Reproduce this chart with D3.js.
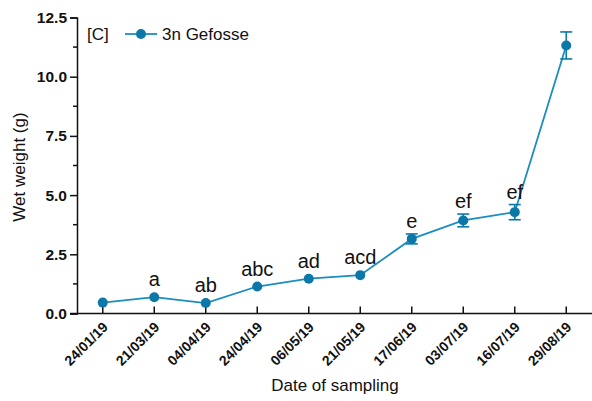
<!DOCTYPE html>
<html><head><meta charset="utf-8">
<script src="https://cdn.jsdelivr.net/npm/d3@7"></script>
<style>body{margin:0;background:#fff;} svg{display:block;font-family:"Liberation Sans",Arial,sans-serif;}</style>
</head><body>
<svg id="c" width="592" height="401"></svg>
<script>
const dates = ["24/01/19","21/03/19","04/04/19","24/04/19","06/05/19","21/05/19","17/06/19","03/07/19","16/07/19","29/08/19"];
const means = [0.46, 0.69, 0.44, 1.14, 1.47, 1.62, 3.15, 3.93, 4.28, 11.32];
const errs  = [0.05, 0.06, 0.05, 0.06, 0.06, 0.06, 0.21, 0.27, 0.32, 0.57];
const letters = ["", "a", "ab", "abc", "ad", "acd", "e", "ef", "ef", ""];
const yTicks = [0, 2.5, 5.0, 7.5, 10.0, 12.5];
const seriesName = "3n Gefosse";
const panelLabel = "[C]";

const FONT = "'Liberation Sans', Arial, sans-serif";
const lineCol = "#1b8dc0", markCol = "#0b78a8";
const svg = d3.select("#c");
const x = d3.scaleBand().domain(dates).range([77, 592]);
const y = d3.scaleLinear().domain([0, 12.5]).range([313.5, 17.5]);
const cx = d => x(d) + x.bandwidth()/2;

// Y axis
const yAx = svg.append("g").attr("transform","translate(77,0)")
  .call(d3.axisLeft(y).tickValues(yTicks).tickFormat(d3.format(".1f")).tickSize(7).tickPadding(3));
yAx.attr("font-family", FONT);
yAx.select(".domain").attr("stroke","#111").attr("stroke-width",1.5);
yAx.selectAll(".tick line").attr("stroke","#111").attr("stroke-width",1.5);
yAx.selectAll(".tick text").attr("font-size",15.5).attr("font-weight","bold").attr("fill","#111");
// minor ticks
const minor = d3.range(1.25, 12.5, 2.5);
svg.append("g").selectAll("line").data(minor).join("line")
  .attr("x1",73).attr("x2",77).attr("y1",d=>y(d)).attr("y2",d=>y(d))
  .attr("stroke","#111").attr("stroke-width",1.5);

// X axis (ticks pointing inward)
const xAx = svg.append("g").attr("transform","translate(0,313.5)")
  .call(d3.axisTop(x).tickSizeOuter(0).tickSize(7).tickFormat(""));
xAx.select(".domain").attr("stroke","#111").attr("stroke-width",1.5).attr("d","M70,0H592");
xAx.selectAll(".tick line").attr("stroke","#111").attr("stroke-width",1.5);
svg.append("g").selectAll("text").data(dates).join("text")
  .attr("transform", d => `translate(${cx(d)-1},${321}) rotate(-45)`)
  .attr("text-anchor","end").attr("dy","0.71em")
  .attr("font-size",14).attr("font-weight","bold").attr("fill","#111").text(d=>d);

// Axis titles
svg.append("text").attr("transform","translate(25,167) rotate(-90)")
  .attr("text-anchor","middle").attr("font-size",17).attr("fill","#111").text("Wet weight (g)");
svg.append("text").attr("x",335).attr("y",391)
  .attr("text-anchor","middle").attr("font-size",17).attr("fill","#111").text("Date of sampling");

// Line
const data = dates.map((d,i)=>({d, m:means[i], e:errs[i], l:letters[i]}));
svg.append("path").datum(data)
  .attr("d", d3.line().x(p=>cx(p.d)).y(p=>y(p.m)))
  .attr("fill","none").attr("stroke",lineCol).attr("stroke-width",1.8);
// Error bars
const eb = svg.append("g").attr("stroke",markCol).attr("stroke-width",1.6);
data.filter(p=>p.e>0.1).forEach(p=>{
  eb.append("line").attr("x1",cx(p.d)).attr("x2",cx(p.d)).attr("y1",y(p.m-p.e)).attr("y2",y(p.m+p.e));
  eb.append("line").attr("x1",cx(p.d)-6).attr("x2",cx(p.d)+6).attr("y1",y(p.m-p.e)).attr("y2",y(p.m-p.e));
  eb.append("line").attr("x1",cx(p.d)-6).attr("x2",cx(p.d)+6).attr("y1",y(p.m+p.e)).attr("y2",y(p.m+p.e));
});
// Markers
svg.append("g").selectAll("circle").data(data).join("circle")
  .attr("cx",p=>cx(p.d)).attr("cy",p=>y(p.m)).attr("r",5).attr("fill",markCol);
// Letters
svg.append("g").selectAll("text").data(data.filter(p=>p.l)).join("text")
  .attr("x",p=>cx(p.d)).attr("y",p=>Math.min(y(p.m+p.e), y(p.m)-5)-6)
  .attr("text-anchor","middle").attr("font-size",20).attr("fill","#111").text(p=>p.l);

// Legend
svg.append("text").attr("x",87).attr("y",40).attr("font-size",17).attr("fill","#111").text(panelLabel);
svg.append("line").attr("x1",125).attr("x2",157).attr("y1",34).attr("y2",34).attr("stroke",lineCol).attr("stroke-width",1.8);
svg.append("circle").attr("cx",141).attr("cy",34).attr("r",5).attr("fill",markCol);
svg.append("text").attr("x",162).attr("y",40).attr("font-size",17).attr("fill","#111").text(seriesName);
</script>
</body></html>
